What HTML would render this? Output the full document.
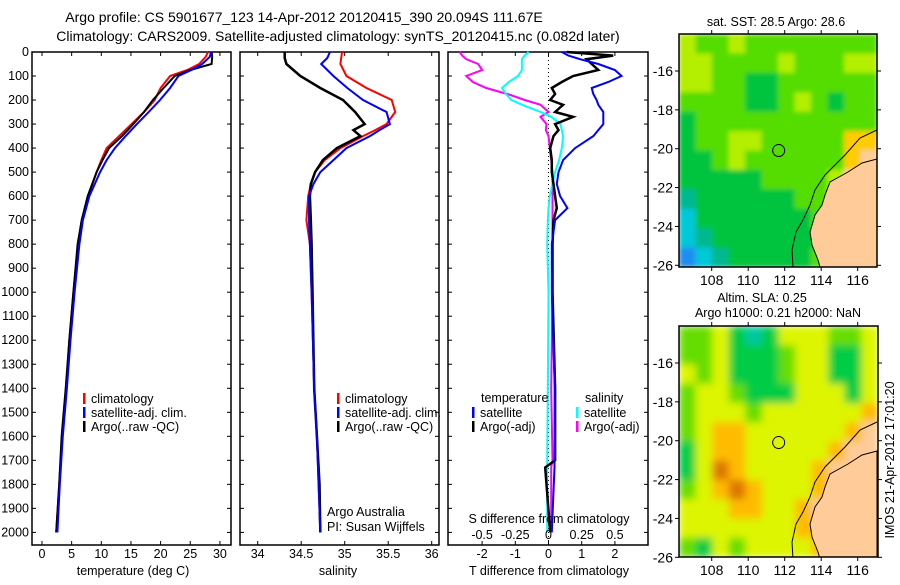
<!DOCTYPE html>
<html><head><meta charset="utf-8">
<style>
html,body{margin:0;padding:0;background:#fff;}
body{width:900px;height:580px;overflow:hidden;font-family:"Liberation Sans",sans-serif;}
svg text{font-family:"Liberation Sans",sans-serif;font-size:12.5px;fill:#000;}
svg text.big{font-size:14px;}
svg text.map{font-size:14px;}
</style></head>
<body>
<svg id="chart" width="900" height="580" xmlns="http://www.w3.org/2000/svg">
<defs>
<filter id="blur" x="0" y="0" width="1" height="1"><feGaussianBlur stdDeviation="4" edgeMode="duplicate"/></filter>
<filter id="blur2" x="0" y="0" width="1" height="1"><feGaussianBlur stdDeviation="2.5" edgeMode="duplicate"/></filter>
<clipPath id="clipA"><rect x="679" y="34" width="198" height="233"/></clipPath>
<clipPath id="clipB"><rect x="679" y="326" width="199" height="231"/></clipPath>
</defs>
<text class="big" x="304" y="22" text-anchor="middle">Argo profile: CS 5901677_123 14-Apr-2012 20120415_390 20.094S 111.67E</text>
<text class="big" x="338" y="41" text-anchor="middle">Climatology: CARS2009. Satellite-adjusted climatology: synTS_20120415.nc (0.082d later)</text>
<g id="g1"></g><g id="g2"></g><g id="g3"></g><g id="maps"></g>
<text x="133" y="575" text-anchor="middle">temperature (deg C)</text>
<text x="338" y="575" text-anchor="middle">salinity</text>
<text x="549" y="575" text-anchor="middle">T difference from climatology</text>
<text x="549" y="523" text-anchor="middle">S difference from climatology</text>
<text x="327" y="516">Argo Australia</text>
<text x="327" y="531">PI: Susan Wijffels</text>
<text x="776" y="26" text-anchor="middle">sat. SST: 28.5 Argo: 28.6</text>
<text x="762" y="302" text-anchor="middle">Altim. SLA: 0.25</text>
<text x="778" y="317" text-anchor="middle">Argo h1000: 0.21 h2000: NaN</text>
<text transform="translate(894,460) rotate(-90)" text-anchor="middle">IMOS 21-Apr-2012 17:01:20</text>
</svg>
<script>
// ---- data ----
const depthTicks = [0,100,200,300,400,500,600,700,800,900,1000,1100,1200,1300,1400,1500,1600,1700,1800,1900,2000];
const tempTicks = [0,5,10,15,20,25,30];
const salTicks = [34,34.5,35,35.5,36];
const tdiffTicks = [-2,-1,0,1,2];
const sdiffTicks = [-0.5,-0.25,0,0.25,0.5];

const tempDepths = [0,20,50,75,100,150,200,250,300,350,400,450,500,600,700,800,1000,1200,1400,1600,1800,2000];
const tempClim = [28.0,27.6,26.5,24.5,21.6,20.0,19.0,17.2,15.1,13.0,10.9,10.0,9.2,7.8,6.7,6.1,5.3,4.6,4.1,3.4,2.9,2.4];
const tempSat  = [28.5,28.3,27.0,25.2,23.0,21.6,19.9,18.0,16.0,14.1,12.3,10.9,9.8,8.0,6.9,6.3,5.5,4.8,4.2,3.5,3.0,2.6];
const tempArgo = [28.6,28.7,28.6,25.0,22.4,20.5,18.7,17.2,15.4,13.5,11.3,10.2,9.2,7.7,6.7,6.0,5.3,4.6,4.0,3.3,2.9,2.4];

const salDepths = [0,25,50,100,150,200,250,300,325,350,400,450,500,550,600,700,800,1000,1400,1600,1800,2000];
const salClim = [34.97,34.96,34.95,35.02,35.25,35.54,35.58,35.48,35.35,35.21,34.95,34.77,34.66,34.61,34.58,34.56,34.60,34.62,34.65,34.68,34.70,34.72];
const salSat  = [34.83,34.80,34.73,34.87,35.03,35.21,35.48,35.52,35.40,35.29,35.02,34.87,34.72,34.64,34.59,34.59,34.60,34.62,34.65,34.68,34.70,34.72];
const salArgo = [34.31,34.31,34.33,34.49,34.72,34.98,35.12,35.23,35.10,35.18,34.91,34.75,34.66,34.61,34.60,34.61,34.62,34.63,34.65,34.68,34.71,34.72];

const diffDepths = [0,15,30,50,75,100,125,150,175,200,220,250,270,300,325,350,400,450,500,550,600,650,700,800,1000,1400,1700,1730,2000];
const tdiffSat  = [0.40,0.6,0.95,1.5,2.0,2.2,1.8,1.3,1.35,1.45,1.5,1.65,1.65,1.65,1.5,1.35,0.8,0.44,0.3,0.25,0.35,0.57,0.2,0.1,0.1,0.19,0.18,0.18,0.1];
const tdiffArgo = [0.55,1.95,1.15,1.3,1.5,0.74,0.4,0.1,0.2,0.05,0.44,0.2,0.74,0.2,0.3,0.15,0.05,0.1,0.1,0.15,0.2,0.25,0.15,0.12,0.12,0.2,0.2,-0.1,0.05];
const sdiffSat  = [-0.15,-0.18,-0.2,-0.2,-0.2,-0.23,-0.3,-0.35,-0.32,-0.28,-0.2,-0.06,0.02,0.09,0.1,0.11,0.10,0.08,0.05,0.03,0.01,0.0,-0.005,-0.01,0,-0.005,-0.01,-0.01,-0.01];
const sdiffArgo = [-0.67,-0.65,-0.62,-0.53,-0.5,-0.62,-0.57,-0.47,-0.31,-0.18,-0.06,0,-0.06,-0.015,-0.02,0,0.01,0.02,0.03,0.03,0.03,0.03,0.03,0.03,0.03,0.02,0.03,0.02,0.02];

const lonTicks = [108,110,112,114,116];
const latTicks = [-16,-18,-20,-22,-24,-26];
const sstGrid = [
 "YGGYGGGGGGGG","YYGGGGYGGGYY","YYGGDDGGGGGG","GGGGDDGYGDGG","DGGGGGGGGGGG","DGGYYGGGGGOO",
 "DDGYGGGGGGOL","DDDDDGGGGYLL","TDDDDDDGGOLL","CDDDDDDDGLLL","CTDDDDDDDLLL","BCTDDDDDGDLL"];
const slaGrid = [
 "GGYDTDYYYGGY","GGYDDDGYYDDY","YGYDDDGYYDDY","GYYGDDDYYYDY","GYYYGYYYYYYO","GYOOYYYYYYOL",
 "DYOOYYYYYOLL","DYROYYYYOLLL","GYOROYYYOLLL","YYYOOYYOLLLL","YYYYYYYOOLLL","GDYGYYYYOLLL"];
const argoLon = 111.67, argoLat = -20.094;

// ---- helpers ----
const NS="http://www.w3.org/2000/svg";
function mk(parent,tag,attrs,text){const e=document.createElementNS(NS,tag);for(const k in attrs)e.setAttribute(k,attrs[k]);if(text!==undefined)e.textContent=text;parent.appendChild(e);return e;}
const top0=52, bot=545;
const yD = d => 52 + d*0.2402;
const xT = t => 42 + t*5.93;
const xS = s => 257.7 + (s-34)*87;
const xTd = v => 548.5 + v*33.2;
const xSd = v => 548.5 + v*132.8;

function panel(g,x0,x1,name,ticks,fx,leftLabels){
  const r=mk(g,'rect',{x:x0,y:top0,width:x1-x0,height:bot-top0,fill:'none',stroke:'#000','stroke-width':1.5});
  
  
  depthTicks.forEach(d=>{
    const y=yD(d);
    mk(g,'line',{x1:x0,x2:x0+4,y1:y,y2:y,stroke:'#000'});
    mk(g,'line',{x1:x1-4,x2:x1,y1:y,y2:y,stroke:'#000'});
    if(leftLabels){
      const t=mk(g,'text',{x:x0-3,y:y+4,'text-anchor':'end'},String(d));
      
      
    }
  });
  ticks.forEach(v=>{
    const x=fx(v);
    mk(g,'line',{x1:x,x2:x,y1:top0,y2:top0+4,stroke:'#000'});
    mk(g,'line',{x1:x,x2:x,y1:bot-4,y2:bot,stroke:'#000'});
    const t=mk(g,'text',{x:x,y:558,'text-anchor':'middle'},String(v));
    
    
  });
}
function series(g,depths,vals,fx,color,w,name){
  const pts=depths.map((d,i)=>fx(vals[i]).toFixed(1)+','+yD(d).toFixed(1)).join(' ');
  const p=mk(g,'polyline',{points:pts,fill:'none',stroke:color,'stroke-width':w,'stroke-linejoin':'miter'});
  
  
}
function legend(g,x,y,color,label,name){
  mk(g,'rect',{x:x,y:y-6,width:2.5,height:11,fill:color});
  const t=mk(g,'text',{x:x+8,y:y+4},label);
  
  
}

// panel 1
const g1=document.getElementById('g1');
panel(g1,32,231,'temperature-panel',tempTicks,xT,true);
series(g1,tempDepths,tempClim,xT,'#f00',2,'temp-climatology-line');
series(g1,tempDepths,tempArgo,xT,'#000',2,'temp-argo-line');
series(g1,tempDepths,tempSat,xT,'#00f',2,'temp-satellite-line');
legend(g1,83,399,'#f00','climatology','legend-climatology');
legend(g1,83,413,'#00f','satellite-adj. clim.','legend-satellite');
legend(g1,83,427,'#000','Argo(..raw -QC)','legend-argo');

// panel 2
const g2=document.getElementById('g2');
panel(g2,240,439,'salinity-panel',salTicks,xS,false);
series(g2,salDepths,salClim,xS,'#f00',2,'sal-climatology-line');
series(g2,salDepths,salArgo,xS,'#000',2.5,'sal-argo-line');
series(g2,salDepths,salSat,xS,'#00f',2,'sal-satellite-line');
legend(g2,337,399,'#f00','climatology','legend-climatology');
legend(g2,337,413,'#00f','satellite-adj. clim.','legend-satellite');
legend(g2,337,427,'#000','Argo(..raw -QC)','legend-argo');

// panel 3
const g3=document.getElementById('g3');
panel(g3,448,648,'difference-panel',tdiffTicks,xTd,false);
mk(g3,'line',{x1:xTd(0),x2:xTd(0),y1:top0,y2:bot,stroke:'#000','stroke-dasharray':'1,3'});
series(g3,diffDepths,sdiffArgo,xSd,'#f0f',2,'sdiff-argo-line');
series(g3,diffDepths,sdiffSat,xSd,'#0ff',2,'sdiff-satellite-line');
series(g3,diffDepths,tdiffArgo,xTd,'#000',2.5,'tdiff-argo-line');
series(g3,diffDepths,tdiffSat,xTd,'#00f',2,'tdiff-satellite-line');
sdiffTicks.forEach(v=>{
  const t=mk(g3,'text',{x:xSd(v),y:539,'text-anchor':'middle'},String(v));
  
  
});
let th=mk(g3,'text',{x:481,y:402},'temperature');


let sh=mk(g3,'text',{x:585,y:402},'salinity');


legend(g3,472,413,'#00f','satellite','legend-t-satellite');
legend(g3,472,427,'#000','Argo(-adj)','legend-t-argo');
legend(g3,576,413,'#0ff','satellite','legend-s-satellite');
legend(g3,576,427,'#f0f','Argo(-adj)','legend-s-argo');

// maps
const colors={Y:'#b4ee00',G:'#55dd00',D:'#00c43c',T:'#00b890',C:'#00c8d8',B:'#1a8ef0',O:'#ffcc00',R:'#dd7a10',L:'#ffcc99'};
const slaColors={Y:'#ddf500',G:'#66dd00',D:'#00cc44',T:'#00c8a0',C:'#00c8d8',B:'#1a8ef0',O:'#ffbb00',R:'#dd7700',L:'#ffcc99'};
const gm=document.getElementById('maps');
function map(x0,y0,w,h,grid,cols,name,clip,filt){
  const g=mk(gm,'g',{});
  
  
  const cg=mk(g,'g',{'clip-path':'url(#'+clip+')'});
  const cells=mk(cg,'g',{filter:'url(#'+filt+')'});
  const cw=w/grid[0].length, ch=h/grid.length;
  grid.forEach((row,r)=>{[...row].forEach((c,k)=>{
    const cell=mk(cells,'rect',{x:(x0+k*cw).toFixed(1),y:(y0+r*ch).toFixed(1),width:(cw+0.6).toFixed(1),height:(ch+0.6).toFixed(1),fill:cols[c]});
    
    
  });});
  const dy=y0-34;
  const land=[[877,159],[862,163],[848,172],[830,182],[825,195],[822,205],[815,215],[810,232],[812,245],[818,260],[820,267],[877,267]];
  mk(cg,'polygon',{points:land.map(p=>p[0]+','+(p[1]+dy)).join(' '),fill:'#ffcc99',stroke:'#000','stroke-width':1});
  const outer=[[877,130],[860,138],[845,155],[825,175],[815,190],[810,205],[803,220],[796,232],[792,250],[793,267]];
  mk(cg,'polyline',{points:outer.map(p=>p[0]+','+(p[1]+dy)).join(' '),fill:'none',stroke:'#000','stroke-width':1});
  mk(g,'rect',{x:x0,y:y0,width:w,height:h,fill:'none',stroke:'#000','stroke-width':1.5});
  const fx=lon=>711.7+(lon-108)*18.25;
  const fy=lat=>y0+37+(-16-lat)*19.43;
  lonTicks.forEach(v=>{
    mk(g,'line',{x1:fx(v),x2:fx(v),y1:y0,y2:y0-4,stroke:'#000'});
    mk(g,'line',{x1:fx(v),x2:fx(v),y1:y0+h,y2:y0+h+4,stroke:'#000'});
    const t=mk(g,'text',{x:fx(v),y:y0+h+18,'text-anchor':'middle','class':'map'},String(v));
    
    
  });
  latTicks.forEach(v=>{
    mk(g,'line',{x1:x0,x2:x0-4,y1:fy(v),y2:fy(v),stroke:'#000'});
    mk(g,'line',{x1:x0+w,x2:x0+w+4,y1:fy(v),y2:fy(v),stroke:'#000'});
    const t=mk(g,'text',{x:x0-6,y:fy(v)+5,'text-anchor':'end','class':'map'},String(v));
    
    
  });
  const c=mk(g,'circle',{cx:fx(argoLon),cy:fy(argoLat),r:6,fill:'none',stroke:'#000','stroke-width':1});
  
  
}
map(679,34,198,233,sstGrid,colors,'sst-map','clipA','blur2');
map(679,326,199,231,slaGrid,slaColors,'sla-map','clipB','blur');
</script>
</body></html>
